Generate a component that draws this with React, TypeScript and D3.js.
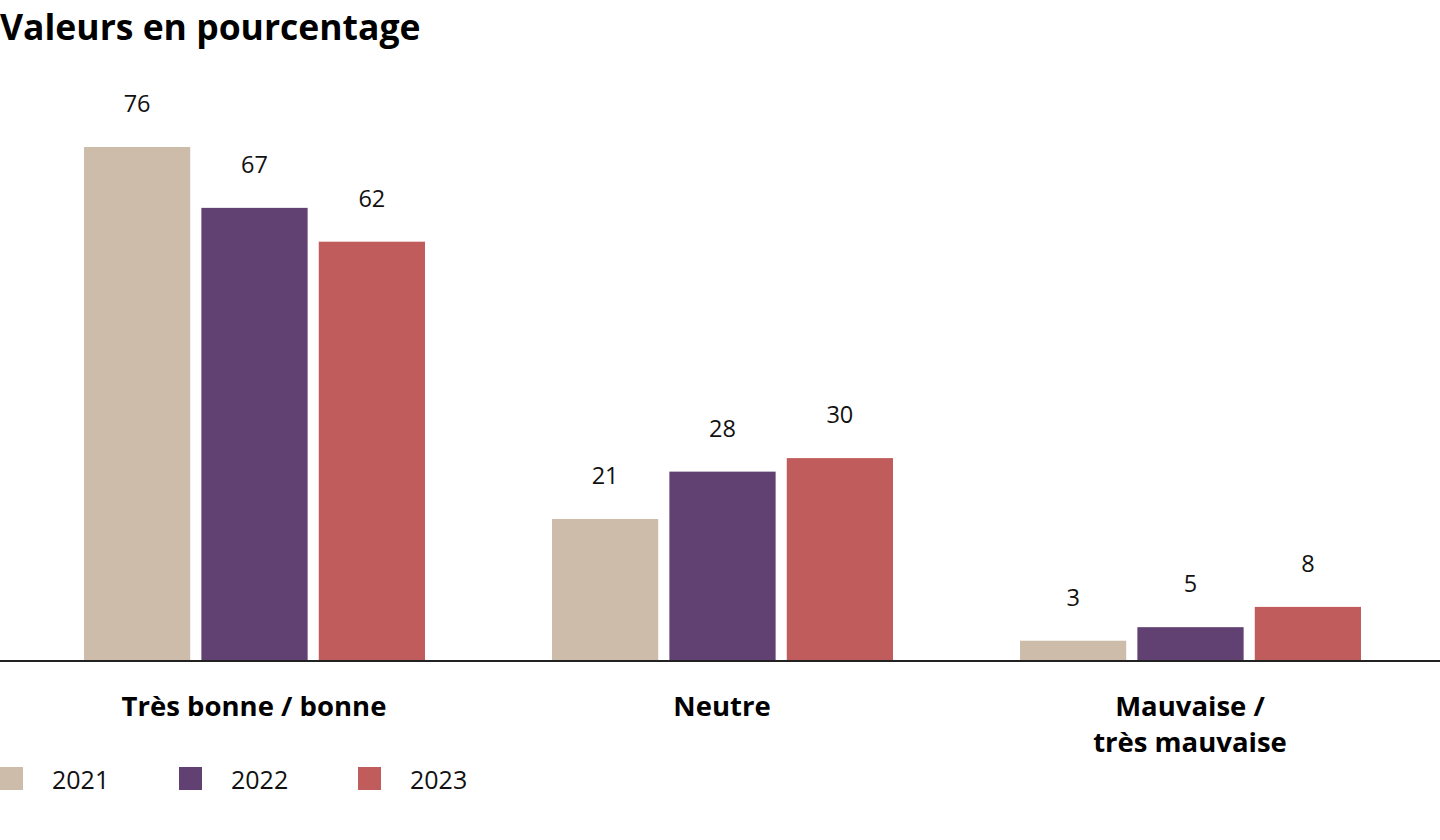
import React from 'react';
import * as d3 from 'd3';

const categories = ['Très bonne / bonne', 'Neutre', 'Mauvaise / très mauvaise'];
const categoryLines = [['Très bonne / bonne'], ['Neutre'], ['Mauvaise /', 'très mauvaise']];
const years = ['2021', '2022', '2023'];
const values2021 = [76, 21, 3];
const values2022 = [67, 28, 5];
const values2023 = [62, 30, 8];
const colors = ['#cebcaa', '#614172', '#c05c5b'];

const W = 1440;
const H = 840;
const FONT = '"Open Sans", "Noto Sans", sans-serif';

const App = () => {
  const series = [values2021, values2022, values2023];
  const baseY = 661;

  const x0 = d3.scaleBand().domain(categories).range([20, 1424]).paddingInner(0).paddingOuter(0);
  const x1 = d3.scaleBand().domain(years).range([64, 405]).paddingInner(0.095).paddingOuter(0);
  const y = d3.scaleLinear().domain([0, 76]).range([baseY, 147]);

  return (
    <svg width={W} height={H} style={{ position: 'absolute', left: 0, top: 0, background: '#fff' }} fontFamily={FONT}>
      <text x={0} y={40} fontSize={35.5} fontWeight={700} fill="#000">Valeurs en pourcentage</text>

      {categories.map((c, i) => (
        <g key={c} transform={`translate(${x0(c)},0)`}>
          {years.map((yr, j) => {
            const v = series[j][i];
            const bx = x1(yr)!;
            return (
              <g key={yr}>
                <rect x={bx} y={y(v)} width={x1.bandwidth()} height={baseY - y(v)} fill={colors[j]} />
                <text x={bx + x1.bandwidth() / 2} y={y(v) - 35} textAnchor="middle" fontSize={23.5} fill="#111">{v}</text>
              </g>
            );
          })}
          {categoryLines[i].map((line, k) => (
            <text key={k} x={x0.bandwidth() / 2} y={716 + k * 36} textAnchor="middle" fontSize={27.5} fontWeight={700} fill="#000">{line}</text>
          ))}
        </g>
      ))}

      <line x1={0} x2={W} y1={baseY} y2={baseY} stroke="#222" strokeWidth={2} />

      {years.map((yr, j) => (
        <g key={yr} transform={`translate(${j * 179},0)`}>
          <rect x={0} y={767} width={23} height={23} fill={colors[j]} />
          <text x={52} y={789} fontSize={25} fill="#111">{yr}</text>
        </g>
      ))}
    </svg>
  );
};

export default App;
